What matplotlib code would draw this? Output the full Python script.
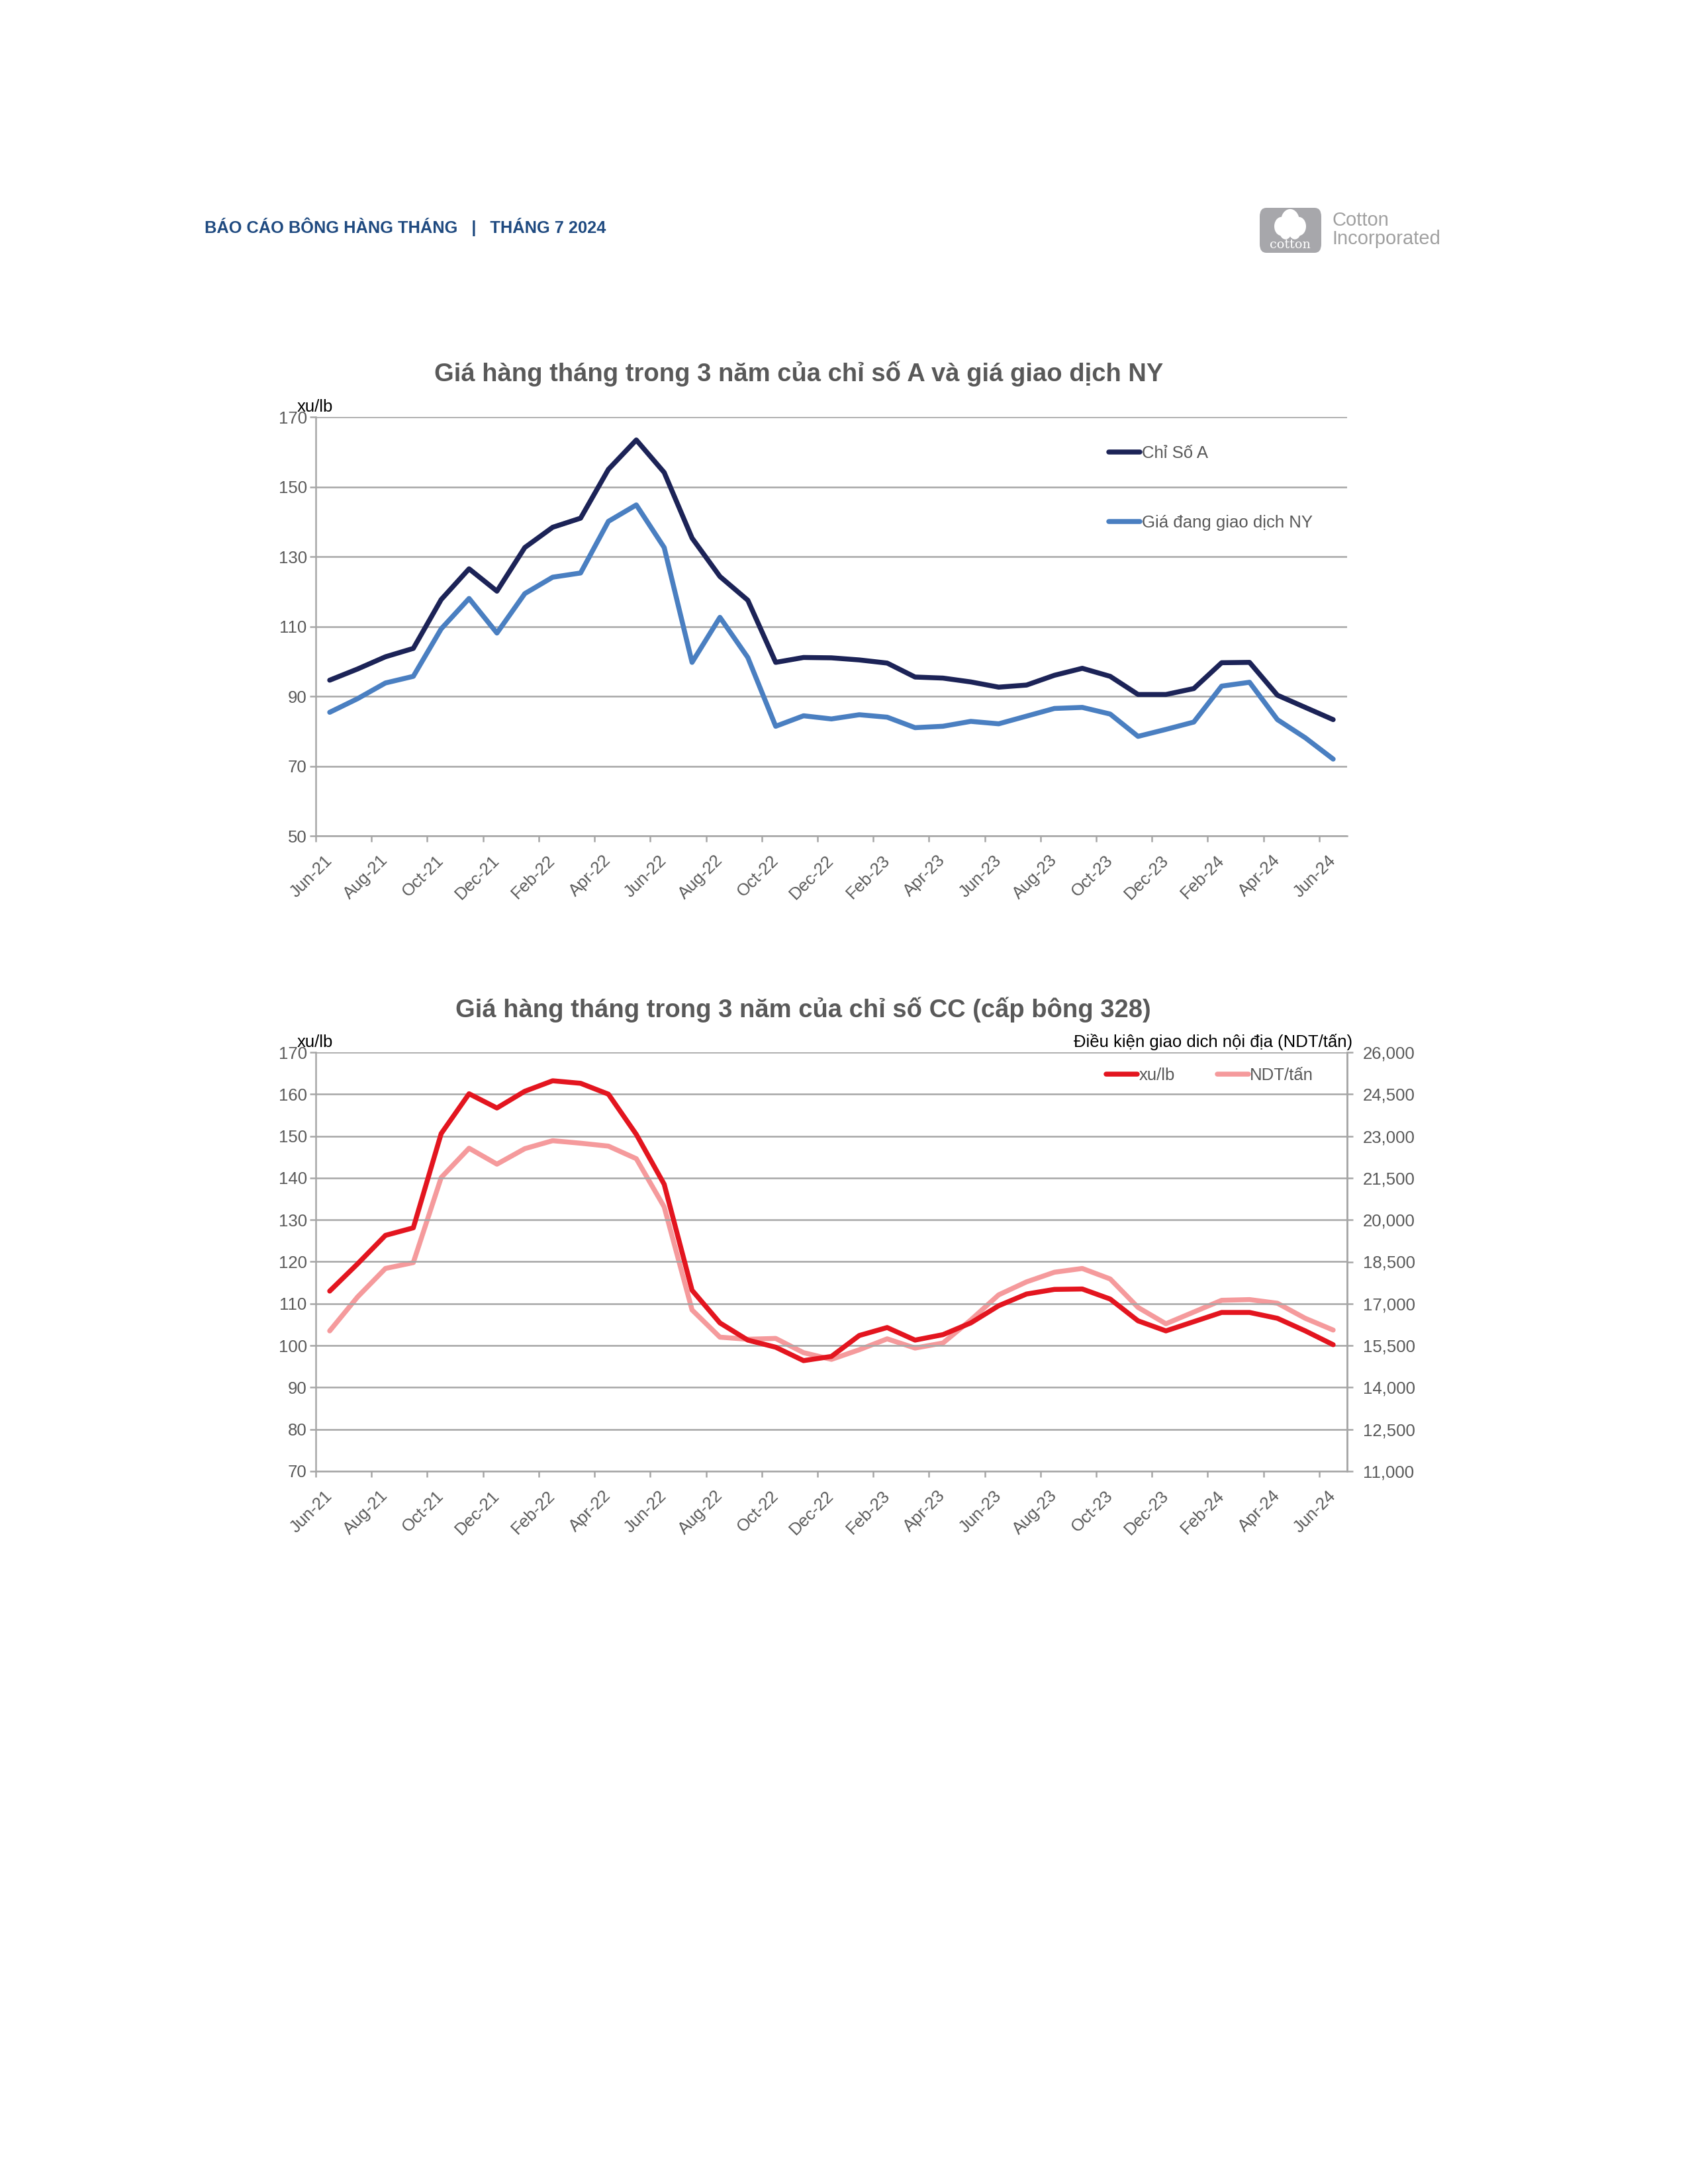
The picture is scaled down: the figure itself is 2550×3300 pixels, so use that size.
import matplotlib
matplotlib.use('Agg')
import matplotlib.pyplot as plt
import numpy as np
from matplotlib.patches import FancyBboxPatch, Circle

plt.rcParams['font.family'] = ['Liberation Sans', 'DejaVu Sans']

# ---- data ----
months = ['Jun-21', 'Jul-21', 'Aug-21', 'Sep-21', 'Oct-21', 'Nov-21', 'Dec-21',
          'Jan-22', 'Feb-22', 'Mar-22', 'Apr-22', 'May-22', 'Jun-22', 'Jul-22',
          'Aug-22', 'Sep-22', 'Oct-22', 'Nov-22', 'Dec-22', 'Jan-23', 'Feb-23',
          'Mar-23', 'Apr-23', 'May-23', 'Jun-23', 'Jul-23', 'Aug-23', 'Sep-23',
          'Oct-23', 'Nov-23', 'Dec-23', 'Jan-24', 'Feb-24', 'Mar-24', 'Apr-24',
          'May-24', 'Jun-24']

a_index = [94.6, 97.8, 101.3, 103.7, 117.7, 126.5, 120.1, 132.6, 138.4, 141.0,
           155.0, 163.4, 154.1, 135.3, 124.3, 117.5, 99.7, 101.1, 101.0, 100.4,
           99.5, 95.5, 95.2, 94.1, 92.6, 93.2, 96.0, 98.0, 95.7, 90.5,
           90.5, 92.2, 99.6, 99.7, 90.3, 86.8, 83.3]

ny_futures = [85.4, 89.3, 93.8, 95.7, 109.3, 118.0, 108.1, 119.4, 124.1, 125.3,
              140.1, 144.8, 132.6, 99.7, 112.6, 101.1, 81.4, 84.4, 83.5, 84.7,
              84.0, 81.0, 81.4, 82.8, 82.1, 84.3, 86.5, 86.8, 84.9, 78.5,
              80.5, 82.6, 92.9, 94.0, 83.3, 78.1, 72.0]

cc_cents = [113.0, 119.5, 126.3, 128.1, 150.6, 160.1, 156.7, 160.7, 163.2, 162.6,
            160.0, 150.4, 138.5, 113.2, 105.4, 101.3, 99.6, 96.4, 97.4, 102.4,
            104.3, 101.3, 102.6, 105.4, 109.5, 112.3, 113.4, 113.5, 111.1, 105.9,
            103.5, 105.7, 107.9, 107.9, 106.5, 103.5, 100.2]

cc_rmb = [16025, 17240, 18260, 18470, 21515, 22565, 21995, 22550, 22835, 22745,
          22640, 22190, 20465, 16775, 15800, 15725, 15755, 15245, 15005, 15350,
          15740, 15410, 15590, 16415, 17315, 17780, 18125, 18260, 17885, 16865,
          16280, 16700, 17120, 17145, 17015, 16475, 16055]

# ---- style ----
GRAY_TXT = '#595959'
GRID = '#a6a6a6'
NAVY = '#1c2357'
STEEL = '#4a7fc1'
RED = '#e3151f'
PINK = '#f59a9c'
FS = 6.2
TITLE_FS = 9.15

fig = plt.figure(figsize=(8.5, 11), dpi=300)
W, H = 2550.0, 3300.0


def px_axes(left, top, right, bottom):
    return fig.add_axes([left / W, 1 - bottom / H, (right - left) / W, (bottom - top) / H])


def style_axes(ax):
    x = np.arange(len(months))
    ax.set_xlim(-0.5, len(months) - 0.5)
    ax.set_xticks(np.arange(-0.5, len(months) - 1, 2))
    ax.set_xticklabels([])
    ax.set_xticks(x[::2], minor=True)
    ax.set_xticklabels(months[::2], minor=True, rotation=45, ha='right', va='center',
                       rotation_mode='anchor', color=GRAY_TXT, fontsize=FS)
    ax.tick_params(axis='x', which='major', length=2.2, width=0.6, color=GRID, direction='out')
    ax.tick_params(axis='x', which='minor', length=0, pad=8)
    ax.tick_params(axis='y', length=2.2, width=0.6, color=GRID, labelcolor=GRAY_TXT,
                   labelsize=FS, pad=1)
    ax.grid(True, axis='y', color=GRID, linewidth=0.6)
    ax.set_axisbelow(True)
    for side in ['top', 'right']:
        ax.spines[side].set_visible(False)
    for side in ['left', 'bottom']:
        ax.spines[side].set_color(GRID)
        ax.spines[side].set_linewidth(0.6)
    return x


# ---- header ----
fig.text(309 / W, 1 - 343 / H, 'BÁO CÁO BÔNG HÀNG THÁNG   |   THÁNG 7 2024',
         color='#1f4a80', fontsize=6.1, fontweight='bold', ha='left', va='center')

# logo
logo_box = FancyBboxPatch((1903 / W, 1 - 382 / H), 93 / W, 68 / H,
                          boxstyle='round,pad=0,rounding_size=0.004',
                          transform=fig.transFigure, facecolor='#a7a7ab', edgecolor='none')
fig.patches.append(logo_box)
for cx, cy, r in [(1949, 334, 14), (1936, 342, 11), (1962, 342, 11), (1942, 350, 9), (1956, 350, 9)]:
    fig.patches.append(Circle((cx / W, 1 - cy / H), r / W, transform=fig.transFigure,
                              facecolor='white', edgecolor='none'))
fig.text(1949 / W, 1 - 370 / H, 'cotton', color='white', fontsize=4.6,
         ha='center', va='center', family='DejaVu Serif')
fig.text(2012 / W, 1 - 333 / H, 'Cotton', color='#a0a0a0', fontsize=7.0, ha='left', va='center')
fig.text(2012 / W, 1 - 361 / H, 'Incorporated', color='#a0a0a0', fontsize=7.0, ha='left', va='center')

# ---- chart 1 ----
ax1 = px_axes(477, 630, 2035, 1263)
x = style_axes(ax1)
ax1.plot(x, a_index, color=NAVY, linewidth=1.8, label='Chỉ Số A', solid_capstyle='round')
ax1.plot(x, ny_futures, color=STEEL, linewidth=1.8, label='Giá đang giao dịch NY',
         solid_capstyle='round')
ax1.set_ylim(50, 170)
ax1.set_yticks(np.arange(50, 171, 20))
ax1.text(-0.018, 1.012, 'xu/lb', transform=ax1.transAxes, fontsize=FS, color='black',
         ha='left', va='baseline')
leg1 = ax1.legend(loc='center left', bbox_to_anchor=(0.769, 0.830), frameon=False,
                  fontsize=FS, handlelength=1.8, handletextpad=0.15, labelspacing=3.15,
                  borderpad=0, borderaxespad=0)
for t in leg1.get_texts():
    t.set_color(GRAY_TXT)
fig.text(1207 / W, 1 - 565 / H, 'Giá hàng tháng trong 3 năm của chỉ số A và giá giao dịch NY',
         fontsize=TITLE_FS, fontweight='bold', color=GRAY_TXT, ha='center', va='center')

# ---- chart 2 ----
ax2 = px_axes(477, 1590, 2035, 2223)
x = style_axes(ax2)
ax2.spines['right'].set_visible(True)
ax2.spines['right'].set_color(GRID)
ax2.spines['right'].set_linewidth(0.6)
l1, = ax2.plot(x, cc_cents, color=RED, linewidth=1.8, label='xu/lb', solid_capstyle='round')
ax2.set_ylim(70, 170)
ax2.set_yticks(np.arange(70, 171, 10))
ax2r = ax2.twinx()
l2, = ax2r.plot(x, cc_rmb, color=PINK, linewidth=1.8, label='NDT/tấn', solid_capstyle='round')
ax2r.set_ylim(11000, 26000)
ax2r.set_yticks(np.arange(11000, 26001, 1500))
ax2r.set_yticklabels([f'{v:,}' for v in range(11000, 26001, 1500)])
ax2r.tick_params(axis='y', length=2.2, width=0.6, color=GRID, labelcolor=GRAY_TXT,
                 labelsize=FS, pad=3.5)
for side in ['top', 'left', 'bottom']:
    ax2r.spines[side].set_visible(False)
ax2r.spines['right'].set_color(GRID)
ax2r.spines['right'].set_linewidth(0.6)
ax2.set_zorder(ax2r.get_zorder() + 1)
ax2.patch.set_visible(False)
ax2.text(-0.018, 1.012, 'xu/lb', transform=ax2.transAxes, fontsize=FS, color='black',
         ha='left', va='baseline')
ax2.text(1.005, 1.012, 'Điều kiện giao dich nội địa (NDT/tấn)', transform=ax2.transAxes,
         fontsize=FS, color='black', ha='right', va='baseline')
leg2 = ax2.legend(handles=[l1, l2], loc='center left', bbox_to_anchor=(0.7665, 0.945),
                  frameon=False, fontsize=FS, ncol=2, handlelength=1.8, handletextpad=0.1,
                  columnspacing=2.5, borderpad=0, borderaxespad=0)
for t in leg2.get_texts():
    t.set_color(GRAY_TXT)
fig.text(1213 / W, 1 - 1526 / H, 'Giá hàng tháng trong 3 năm của chỉ số CC (cấp bông 328)',
         fontsize=TITLE_FS, fontweight='bold', color=GRAY_TXT, ha='center', va='center')

fig.savefig('out.png', dpi=300, facecolor='white')
